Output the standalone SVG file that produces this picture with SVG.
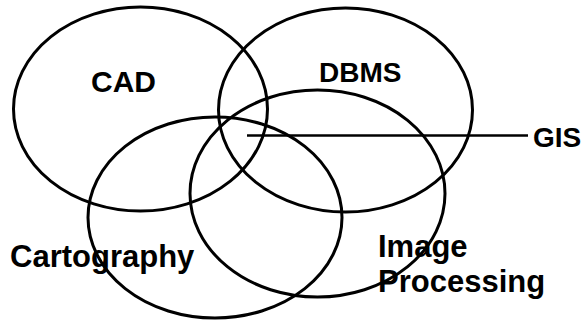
<svg xmlns="http://www.w3.org/2000/svg" width="587" height="321" viewBox="0 0 587 321">
<style>
.e{fill:none;stroke:#000;stroke-width:3}
.t{font-family:"Liberation Sans",Arial,Helvetica,sans-serif;font-weight:bold;fill:#000}
</style>
<rect width="587" height="321" fill="#fff"/>
<g id="cad"><ellipse class="e" cx="140.5" cy="109" rx="127" ry="102"/><text class="t" x="91" y="92" font-size="30">CAD</text></g>
<g id="dbms"><ellipse class="e" cx="345.5" cy="110" rx="127" ry="102"/><text class="t" x="319" y="82" font-size="28">DBMS</text></g>
<g id="cartography"><ellipse class="e" cx="215" cy="217.5" rx="127" ry="100.5"/><text class="t" x="10" y="267" font-size="31">Cartography</text></g>
<g id="image-processing"><ellipse class="e" cx="317.5" cy="193.5" rx="127.5" ry="103.5"/><text class="t" font-size="31"><tspan x="378" y="257">Image</tspan><tspan x="378" y="292">Processing</tspan></text></g>
<g id="gis"><text class="t" x="533" y="147" font-size="28">GIS</text></g>
<g id="connectors"><line x1="247" y1="135.5" x2="528" y2="135.5" stroke="#000" stroke-width="2.5"/></g>
</svg>
